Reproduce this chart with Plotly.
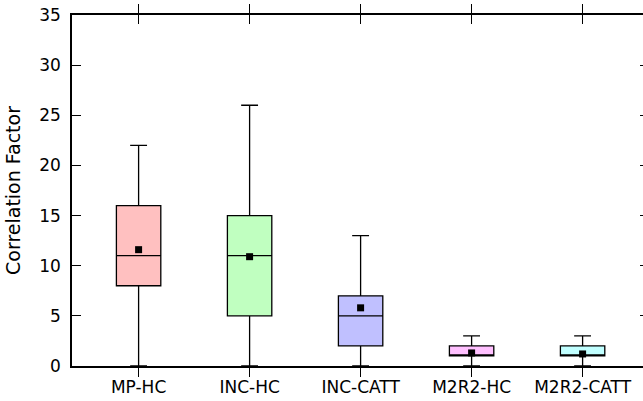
import plotly.graph_objects as go

categories = ["MP-HC", "INC-HC", "INC-CATT", "M2R2-HC", "M2R2-CATT"]
lower = [0, 0, 0, 0, 0]
q1 = [8, 5, 2, 1, 1]
median = [11, 11, 5, 1, 1]
q3 = [16, 15, 7, 2, 2]
upper = [22, 26, 13, 3, 3]
means = [11.6, 10.9, 5.8, 1.3, 1.2]
fills = ["#ffc0c0", "#c0ffc0", "#c0c0ff", "#ffc0ff", "#c0ffff"]

FONT = "DejaVu Sans"
positions = list(range(1, len(categories) + 1))

fig = go.Figure()
for i, cat in enumerate(categories):
    fig.add_trace(go.Box(
        x=[positions[i]],
        q1=[q1[i]], median=[median[i]], q3=[q3[i]],
        lowerfence=[lower[i]], upperfence=[upper[i]],
        fillcolor=fills[i],
        line=dict(color="#000000", width=1.3),
        width=0.4,
        whiskerwidth=0.38,
        boxpoints=False,
        showlegend=False,
        hoverinfo="skip",
    ))

fig.add_trace(go.Scatter(
    x=positions, y=means, mode="markers",
    marker=dict(symbol="square", size=7, color="#000000"),
    showlegend=False, hoverinfo="skip",
))

# invisible trace on right axis for mirrored ticks
fig.add_trace(go.Scatter(x=[positions[0]], y=[0], yaxis="y2", mode="markers",
                         marker=dict(opacity=0), showlegend=False, hoverinfo="skip"))

fig.update_layout(
    width=643, height=401,
    margin=dict(l=72, r=0, t=15, b=35),
    paper_bgcolor="white", plot_bgcolor="white",
    font=dict(family=FONT, size=17, color="#000000"),
    xaxis=dict(
        range=[0.4, 0.4 + 571 / 111],
        tickmode="array", tickvals=positions, ticktext=categories,
        ticks="inside", ticklen=9, tickwidth=1.2, tickcolor="#000000",
        showline=True, linecolor="#000000", linewidth=1.5, mirror="allticks",
        showgrid=False, zeroline=False, ticklabelstandoff=5,
        tickfont=dict(family=FONT, size=17),
    ),
    yaxis=dict(
        range=[0, 35], tickmode="array", tickvals=[0, 5, 10, 15, 20, 25, 30, 35],
        ticks="inside", ticklen=9, tickwidth=1.2, tickcolor="#000000",
        showline=True, linecolor="#000000", linewidth=1.5, mirror=False,
        showgrid=False, zeroline=False, ticklabelstandoff=6,
        tickfont=dict(family=FONT, size=17),
        title=dict(text="Correlation Factor", font=dict(family=FONT, size=19), standoff=14),
    ),
    yaxis2=dict(
        range=[0, 35], overlaying="y", side="right",
        tickmode="array", tickvals=[0, 5, 10, 15, 20, 25, 30, 35],
        ticks="inside", ticklen=3, tickwidth=1.2, tickcolor="#000000",
        showticklabels=False, showline=False, showgrid=False, zeroline=False,
    ),
)

fig.write_html("out.html")
